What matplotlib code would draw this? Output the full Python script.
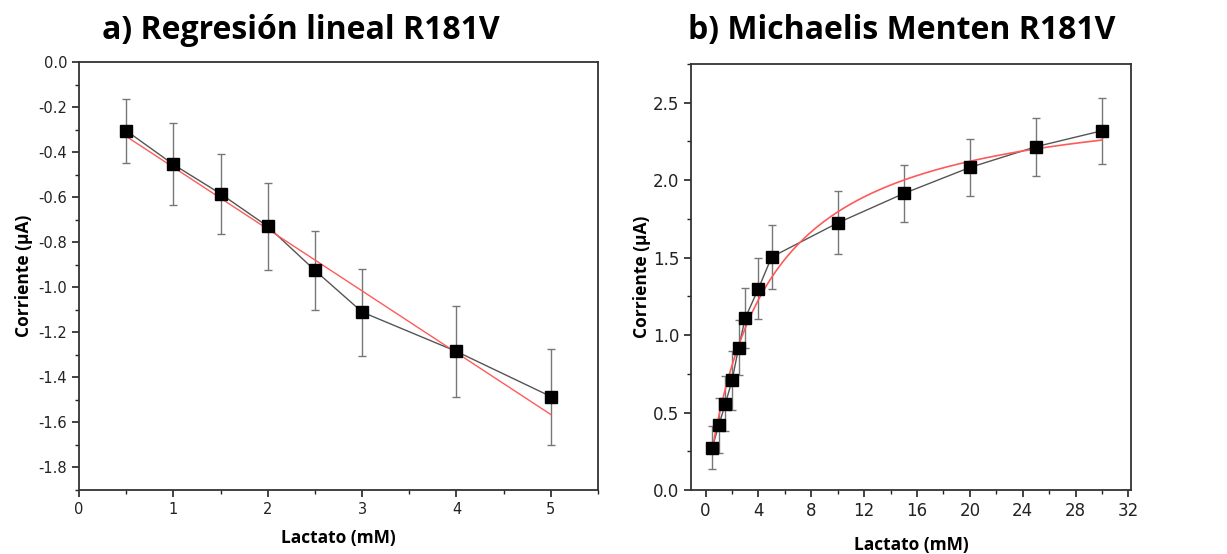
import numpy as np
import matplotlib
matplotlib.use("Agg")
import matplotlib.pyplot as plt
from matplotlib.ticker import MultipleLocator

# --- Data: a) linear regression ---
lin_x = [0.5, 1, 1.5, 2, 2.5, 3, 4, 5]
lin_y = [-0.305, -0.455, -0.585, -0.73, -0.925, -1.11, -1.285, -1.485]
lin_err = [0.142, 0.182, 0.178, 0.192, 0.175, 0.193, 0.200, 0.213]
lin_slope = -0.2744
lin_intercept = -0.193

# --- Data: b) Michaelis-Menten ---
mm_x = [0.5, 1, 1.5, 2, 2.5, 3, 4, 5, 10, 15, 20, 25, 30]
mm_y = [0.274, 0.418, 0.558, 0.707, 0.918, 1.11, 1.30, 1.504, 1.724, 1.914, 2.082, 2.216, 2.319]
mm_err = [0.138, 0.178, 0.177, 0.19, 0.178, 0.195, 0.197, 0.207, 0.203, 0.187, 0.183, 0.186, 0.212]
mm_vmax = 2.594
mm_km = 4.45

fig = plt.figure(figsize=(12.27, 5.54), dpi=100)
ax1 = fig.add_axes([0.0644, 0.1155, 0.423, 0.7726])
ax2 = fig.add_axes([0.5632, 0.1155, 0.3586, 0.769])

title_font = dict(family="Open Sans", weight="bold", size=23)
label_font = dict(family="Open Sans", weight="bold", size=12.5)


def draw(ax, x, y, err):
    ax.errorbar(x, y, yerr=err, fmt="none", ecolor="#777777", elinewidth=1.0,
                capsize=3, capthick=1.0, zorder=2)
    ax.plot(x, y, color="#555555", linewidth=1.0, zorder=3)
    ax.plot(x, y, linestyle="none", marker="s", markersize=8,
            color="black", zorder=5)


# a) Regresión lineal
draw(ax1, lin_x, lin_y, lin_err)
fx = np.linspace(lin_x[0], lin_x[-1], 50)
ax1.plot(fx, lin_slope * fx + lin_intercept, color="#ff5a5a", linewidth=1.0, zorder=4)
ax1.set_xlim(0, 5.5)
ax1.set_ylim(-1.9, 0.0)
ax1.xaxis.set_major_locator(MultipleLocator(1))
ax1.xaxis.set_minor_locator(MultipleLocator(0.5))
ax1.yaxis.set_major_locator(MultipleLocator(0.2))
ax1.yaxis.set_minor_locator(MultipleLocator(0.1))
ax1.yaxis.set_major_formatter(plt.FuncFormatter(lambda v, p: f"{v:.1f}"))
fig.text(0.245, 0.945, "a) Regresión lineal R181V", ha="center", va="center", **title_font)
ax1.set_xlabel("Lactato (mM)", labelpad=9, **label_font)
ax1.set_ylabel("Corriente (µA)", labelpad=4, **label_font)

# b) Michaelis Menten
draw(ax2, mm_x, mm_y, mm_err)
fx2 = np.linspace(mm_x[0], mm_x[-1], 300)
ax2.plot(fx2, mm_vmax * fx2 / (mm_km + fx2), color="#ff5a5a", linewidth=1.2, zorder=4)
ax2.set_xlim(-1.1, 32.2)
ax2.set_ylim(0, 2.75)
ax2.xaxis.set_major_locator(MultipleLocator(4))
ax2.xaxis.set_minor_locator(MultipleLocator(2))
ax2.yaxis.set_major_locator(MultipleLocator(0.5))
ax2.yaxis.set_minor_locator(MultipleLocator(0.25))
fig.text(0.735, 0.945, "b) Michaelis Menten R181V", ha="center", va="center", **title_font)
ax2.set_xlabel("Lactato (mM)", labelpad=12, **label_font)
ax2.set_ylabel("Corriente (µA)", labelpad=1, **label_font)

for ax in (ax1, ax2):
    ax.tick_params(which="both", direction="out", top=False, right=False,
                   labelsize=10.5, colors="#222222")
    ax.tick_params(which="major", length=5, width=1.2)
    ax.tick_params(which="minor", length=3, width=1.0)
    for s in ax.spines.values():
        s.set_linewidth(1.3)
        s.set_color("#333333")

ax2.tick_params(labelsize=12)

fig.savefig("out.png", dpi=100)
